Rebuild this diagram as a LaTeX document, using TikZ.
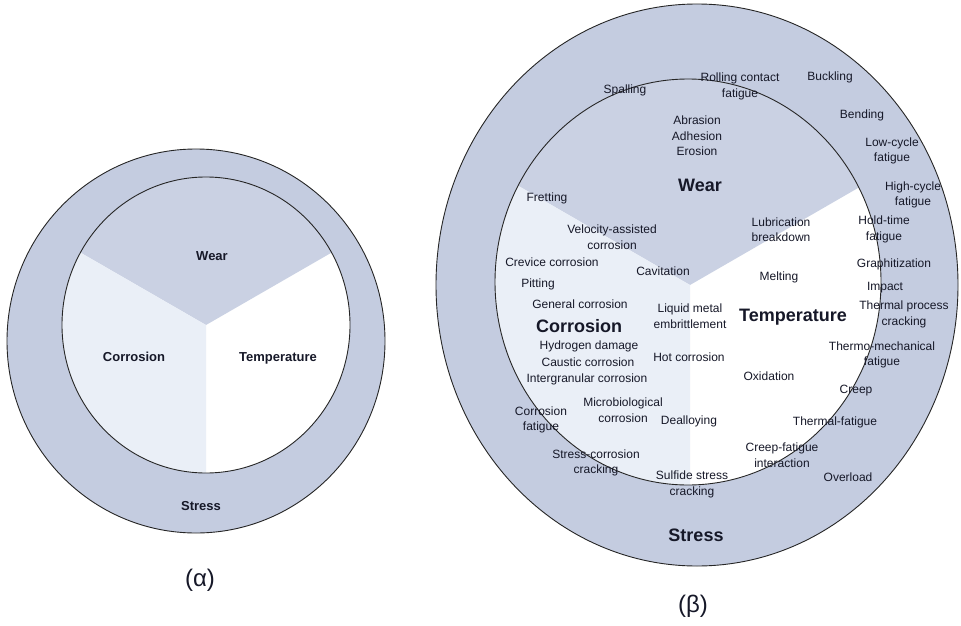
\documentclass[tikz,border=0pt]{standalone}
\usepackage{fontspec}
\setmainfont{Liberation Sans}
\usetikzlibrary{calc}
\definecolor{ringblau}{RGB}{196,204,224}
\definecolor{verschleiss}{RGB}{202,209,227}
\definecolor{korrosion}{RGB}{234,239,247}
\definecolor{schrift}{RGB}{22,24,40}
\tikzset{
	rand/.style={draw=black!85,line width=0.9pt},
	mech/.style={font=\fontsize{12}{15.5}\selectfont,align=center,inner sep=0pt,text=schrift},
	gruppe/.style={font=\bfseries\fontsize{18}{20}\selectfont,inner sep=0pt,text=schrift},
	gruppeklein/.style={font=\bfseries\fontsize{13}{15}\selectfont,inner sep=0pt,text=schrift},
	bildtext/.style={font=\fontsize{24}{26}\selectfont,inner sep=0pt,text=schrift}
}
\begin{document}
\begin{tikzpicture}[x=1pt,y=-1pt]
\useasboundingbox (0,0) rectangle (961,626);
\fill[white] (0,0) rectangle (961,626);
\draw[rand,fill=ringblau] (196,341) ellipse [x radius=189pt,y radius=192pt];
\fill[white] (206,325) ellipse [x radius=144pt,y radius=148pt];
\begin{scope}
\clip (206,325) ellipse [x radius=144pt,y radius=148pt];
\fill[verschleiss] (206,325) -- ++(300,-173) -- ++(0,-300) -- ++(-600,0) -- ++(0,300) -- cycle;
\fill[korrosion] (206,325) -- ++(-300,-173) -- ++(0,500) -- ++(300,0) -- cycle;
\end{scope}
\draw[rand] (206,325) ellipse [x radius=144pt,y radius=148pt];
\draw[rand,fill=ringblau] (697,285) ellipse [x radius=261pt,y radius=281pt];
\fill[white] (688,282) ellipse [x radius=193pt,y radius=203pt];
\begin{scope}
\clip (688,282) ellipse [x radius=193pt,y radius=203pt];
\fill[verschleiss] (690,285) -- ++(400,-231) -- ++(0,-400) -- ++(-800,0) -- ++(0,400) -- cycle;
\fill[korrosion] (690,285) -- ++(-400,-231) -- ++(0,700) -- ++(400,0) -- cycle;
\end{scope}
\draw[rand] (688,282) ellipse [x radius=193pt,y radius=203pt];
\node[gruppeklein] (wearA) at (212,256) {Wear};
\node[gruppeklein] (corrA) at (134,357) {Corrosion};
\node[gruppeklein] (tempA) at (278,358) {Temperature};
\node[gruppeklein] (stressA) at (201,506) {Stress};
\node[bildtext] (capA) at (200,580) {(α)};
\node[mech] (spalling) at (625,90) {Spalling};
\node[mech] (rolling) at (740,86.5) {Rolling contact\\fatigue};
\node[mech] (buckling) at (830,77) {Buckling};
\node[mech] (bending) at (862,115) {Bending};
\node[mech] (lowcycle) at (892,151) {Low-cycle\\fatigue};
\node[mech] (abrasion) at (697,136) {Abrasion\\Adhesion\\Erosion};
\node[gruppe] (wearB) at (700,185) {Wear};
\node[mech] (fretting) at (547,198) {Fretting};
\node[mech] (highcycle) at (913,195) {High-cycle\\fatigue};
\node[mech] (velocity) at (612,237) {Velocity-assisted\\corrosion};
\node[mech] (crevice) at (552,262) {Crevice corrosion};
\node[mech] (cavitation) at (663,271) {Cavitation};
\node[mech] (pitting) at (538,284) {Pitting};
\node[mech] (general) at (580,304) {General corrosion};
\node[mech] (liquid) at (690,316) {Liquid metal\\embrittlement};
\node[gruppe] (corrB) at (579,326) {Corrosion};
\node[mech] (hydrogen) at (589,346) {Hydrogen damage};
\node[mech] (caustic) at (588,362) {Caustic corrosion};
\node[mech] (hotcorr) at (689,357) {Hot corrosion};
\node[mech] (intergran) at (587,379) {Intergranular corrosion};
\node[mech] (microbio) at (623,410) {Microbiological\\corrosion};
\node[mech] (corrfat) at (541,420) {Corrosion\\fatigue};
\node[mech] (dealloy) at (689,421) {Dealloying};
\node[mech] (lubric) at (781,229.5) {Lubrication\\breakdown};
\node[mech] (holdtime) at (884,229.5) {Hold-time\\fatigue};
\node[mech] (melting) at (779,277) {Melting};
\node[mech] (graphit) at (894,264) {Graphitization};
\node[mech] (impact) at (885,288) {Impact};
\node[mech] (thermproc) at (904,314.5) {Thermal process\\cracking};
\node[gruppe] (tempB) at (793,317) {Temperature};
\node[mech] (thermomech) at (882,355) {Thermo-mechanical\\fatigue};
\node[mech] (oxid) at (769,376) {Oxidation};
\node[mech] (creep) at (856,391) {Creep};
\node[mech] (thermfat) at (835,422) {Thermal-fatigue};
\node[mech] (scc) at (596,463) {Stress-corrosion\\cracking};
\node[mech] (sulfide) at (692,484.5) {Sulfide stress\\cracking};
\node[mech] (creepfat) at (782,455) {Creep-fatigue\\interaction};
\node[mech] (overload) at (848,477) {Overload};
\node[gruppe] (stressB) at (696,535) {Stress};
\node[bildtext] (capB) at (693,606) {(β)};
\end{tikzpicture}
\end{document}
